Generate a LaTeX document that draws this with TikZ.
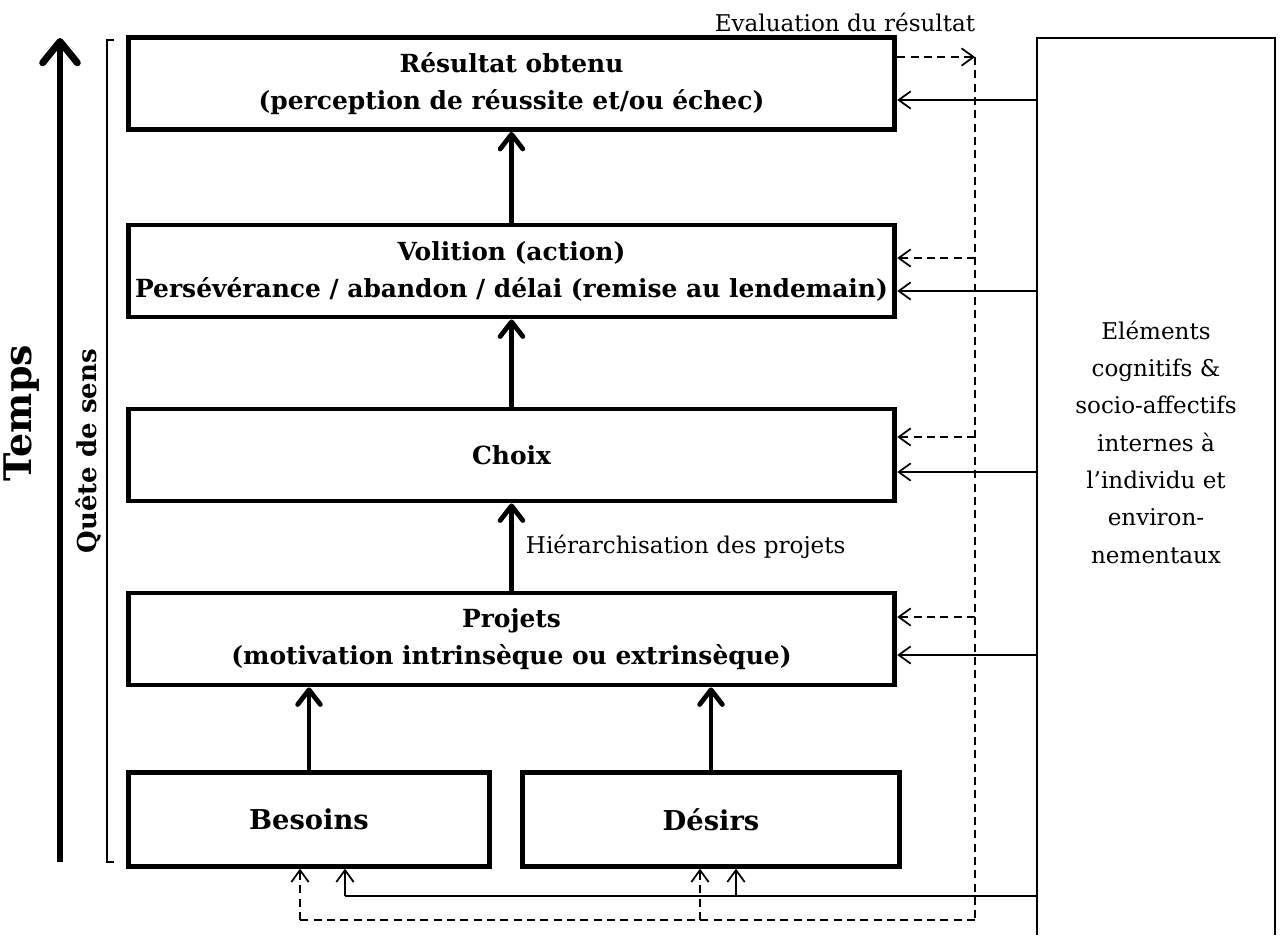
\documentclass[tikz,border=0pt]{standalone}
\usepackage{fontspec}
\setmainfont{DejaVu Serif}
\usetikzlibrary{arrows.meta,calc}
\begin{document}
\begin{tikzpicture}[x=0.75pt,y=-0.75pt,
  box/.style={draw, line width=3.6pt, align=center, inner sep=0pt,
    font=\fontsize{18.7}{27.75}\selectfont\bfseries},
  bigbox/.style={box, minimum width=575pt, minimum height=69pt},
  smallbox/.style={box, minimum height=70pt, font=\fontsize{20.5}{27.75}\selectfont\bfseries},
  thickarr/.style={line width=3.6pt, line cap=round,
    -{Straight Barb[length=11pt,width=17pt,line cap=round,line join=round]}},
  solarr/.style={line width=1.3pt,
    -{Straight Barb[length=9pt,width=13pt]}},
  dasharr/.style={line width=1.3pt, dash pattern=on 6pt off 4pt,
    -{Straight Barb[length=9pt,width=13pt]}},
  solline/.style={line width=1.3pt},
  dashline/.style={line width=1.3pt, dash pattern=on 6pt off 4pt},
  lbl/.style={font=\fontsize{17.3}{28}\selectfont, inner sep=0pt}
]
\useasboundingbox (0,0) rectangle (1281,935);

% main boxes
\node[bigbox] (res) at (511.5,83.5) {Résultat obtenu\\(perception de réussite et/ou échec)};
\node[bigbox] (vol) at (511.5,271) {Volition (action)\\Persévérance / abandon / délai (remise au lendemain)};
\node[bigbox] (choix) at (511.5,455) {Choix};
\node[bigbox] (proj) at (511.5,639) {Projets\\(motivation intrinsèque ou extrinsèque)};
\node[smallbox, minimum width=271pt] (bes) at (309,819.5) {Besoins};
\node[smallbox, minimum width=283pt] (des) at (711,819.5) {Désirs};

% thick arrows
\draw[thickarr] (vol.north) -- (res.south);
\draw[thickarr] (choix.north) -- (vol.south);
\draw[thickarr] (proj.north) -- (choix.south) node[lbl, midway, anchor=west, xshift=9pt] {Hiérarchisation des projets};
\draw[thickarr] (bes.north) -- (bes.north |- proj.south);
\draw[thickarr] (des.north) -- (des.north |- proj.south);

% right box (open at the bottom)
\coordinate (envTL) at (1037,38);
\coordinate (envTR) at (1275,38);
\draw[line width=1.6pt] (envTL |- 0,935) -- (envTL) -- (envTR) -- (envTR |- 0,935);
\node[lbl, align=center] (env) at (1156,442) {Eléments\\cognitifs \&\\socio-affectifs\\internes à\\l’individu et\\environ-\\nementaux};

% dashed feedback column
\coordinate (dx) at (975,0);
\path ($(res.east)+(0,-26.5)$) coordinate (d0)
      ($(vol.east)+(0,-13)$) coordinate (d1)
      ($(choix.east)+(0,-18)$) coordinate (d2)
      ($(proj.east)+(0,-22)$) coordinate (d3);
\draw[dasharr] (d0) -- (dx |- d0);
\node[lbl, anchor=south] (evl) at (845,32) {Evaluation du résultat};
\coordinate (dbot) at (975,920);
\draw[dashline] (dx |- d0) -- (dbot);
\draw[dasharr] (dx |- d1) -- (d1);
\draw[dasharr] (dx |- d2) -- (d2);
\draw[dasharr] (dx |- d3) -- (d3);
\coordinate (db1) at ($(bes.south)+(-9,0)$);
\coordinate (db2) at ($(des.south)+(-11,0)$);
\draw[dashline] (dbot) -- (db1 |- dbot);
\draw[dasharr] (db1 |- dbot) -- (db1);
\draw[dasharr] (db2 |- dbot) -- (db2);

% solid influence lines from the right box
\path ($(res.east)+(0,16.5)$) coordinate (s0)
      ($(vol.east)+(0,20)$) coordinate (s1)
      ($(choix.east)+(0,17)$) coordinate (s2)
      ($(proj.east)+(0,16)$) coordinate (s3);
\draw[solarr] (envTL |- s0) -- (s0);
\draw[solarr] (envTL |- s1) -- (s1);
\draw[solarr] (envTL |- s2) -- (s2);
\draw[solarr] (envTL |- s3) -- (s3);
\coordinate (sbot) at (1037,896);
\coordinate (sb1) at ($(bes.south)+(36,0)$);
\coordinate (sb2) at ($(des.south)+(25,0)$);
\draw[solline] (sbot) -- (sb1 |- sbot);
\draw[solarr] (sb1 |- sbot) -- (sb1);
\draw[solarr] (sb2 |- sbot) -- (sb2);

% time arrow and bracket
\coordinate (tb) at (60,862);
\coordinate (tt) at (60,38);
\draw[line width=5.2pt, -{Straight Barb[length=16pt,width=26pt,line cap=round,line join=round]}] (tb) -- (tt);
\node[font=\fontsize{28.5}{30}\selectfont\bfseries, rotate=90, inner sep=0pt] (temps) at (22,413) {Temps};
\coordinate (bt) at (107,40);
\coordinate (bb) at (107,862);
\draw[line width=1.1pt] ($(bt)+(7,0)$) -- (bt) -- (bb) -- ($(bb)+(7,0)$);
\node[font=\fontsize{19.5}{20}\selectfont\bfseries, rotate=90, inner sep=0pt] (quete) at (88,451) {Quête de sens};
\end{tikzpicture}
\end{document}
